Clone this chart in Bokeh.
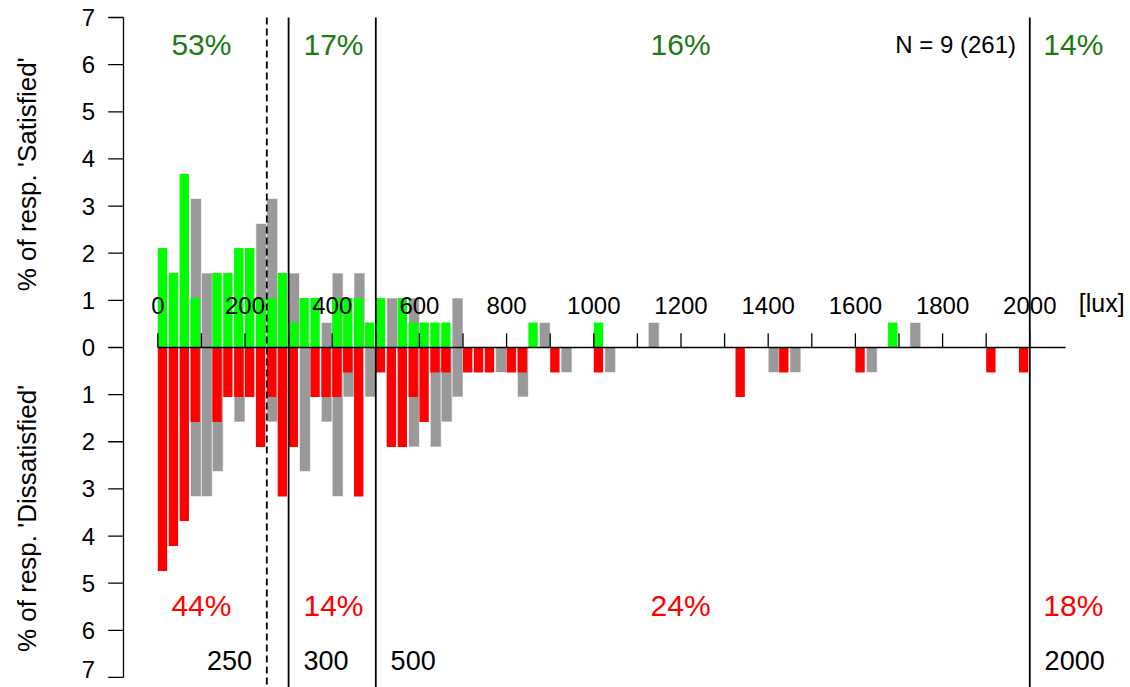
from math import pi
from bokeh.plotting import figure
from bokeh.models import Range1d
from bokeh.core.properties import value
from bokeh.embed import file_html
from bokeh.resources import INLINE

# ---------------- data (lux bin start, % of responses) ----------------
BIN = 25  # lux per bin

sat_lux = [0, 25, 50, 75, 125, 150, 175, 200, 225, 250, 275, 300, 325, 350,
           400, 425, 450, 475, 500, 550, 575, 600, 625, 650, 850, 1000, 1675]
sat_pct = [2.11, 1.58, 3.68, 1.05, 1.58, 1.58, 2.11, 2.11, 1.05, 1.05, 1.58, 0.53, 1.05, 1.05,
           1.05, 1.05, 1.05, 0.53, 1.05, 1.05, 0.53, 0.53, 0.53, 0.53, 0.53, 0.53, 0.53]

sat_all_lux = [75, 100, 225, 250, 300, 375, 400, 450, 525, 575, 675, 875, 1125, 1725]
sat_all_pct = [3.16, 1.58, 2.63, 3.16, 1.58, 0.53, 1.58, 1.58, 1.05, 1.05, 1.05, 0.53, 0.53, 0.53]

dis_lux = [0, 25, 50, 75, 125, 150, 175, 200, 225, 250, 275, 300, 350, 375, 400, 425, 450,
           500, 525, 550, 575, 600, 625, 650, 700, 725, 750, 800, 825, 900, 1000, 1325,
           1425, 1600, 1900, 1975]
dis_pct = [4.74, 4.21, 3.68, 1.58, 1.58, 1.05, 1.05, 1.05, 2.11, 1.05, 3.16, 2.11, 1.05, 1.05,
           1.05, 0.53, 3.16, 0.53, 2.11, 2.11, 1.05, 1.58, 0.53, 0.53, 0.53, 0.53, 0.53, 0.53,
           0.53, 0.53, 0.53, 1.05, 0.53, 0.53, 0.53, 0.53]

dis_all_lux = [75, 100, 125, 175, 250, 325, 375, 400, 425, 475, 575, 625, 650, 675, 775,
               825, 925, 1025, 1400, 1450, 1625]
dis_all_pct = [3.16, 3.16, 2.63, 1.58, 1.58, 2.63, 1.58, 3.16, 1.05, 1.05, 2.11, 2.11, 1.58,
               1.05, 0.53, 1.05, 0.53, 0.53, 0.53, 0.53, 0.53]

thresholds = [250, 300, 500, 2000]
threshold_labels = ["250", "300", "500", "2000"]
sat_share = ["53%", "17%", "16%", "14%"]
dis_share = ["44%", "14%", "24%", "18%"]
share_x = [100, 403, 1199, 2100]

x_ticks = list(range(0, 2001, 100))
x_tick_labels = list(range(0, 2001, 200))
y_ticks = list(range(-7, 8))

FONT = value("Liberation Sans")
GREEN = "#00ff00"
RED = "#ff0000"
GREY = "#999999"
TXT_GREEN = "#1b7a12"

# ---------------- figure ----------------
W, H = 1130, 687
p = figure(width=W, height=H, x_range=Range1d(-360.8, 2231.0), y_range=Range1d(-7.213, 7.361),
           output_backend="svg", toolbar_location=None, x_axis_type=None, y_axis_type=None,
           min_border=0)
p.outline_line_color = None
p.background_fill_color = "white"
p.border_fill_color = "white"

cw = 21.5  # coloured bar width in lux

# grey (all responses) bars behind
p.quad(left=sat_all_lux, right=[x + BIN for x in sat_all_lux], bottom=0, top=sat_all_pct,
       fill_color=GREY, line_color="white", line_width=0.6)
p.quad(left=dis_all_lux, right=[x + BIN for x in dis_all_lux], top=0,
       bottom=[-v for v in dis_all_pct], fill_color=GREY, line_color="white", line_width=0.6)
# coloured bars on top
p.quad(left=sat_lux, right=[x + cw for x in sat_lux], bottom=0, top=sat_pct,
       fill_color=GREEN, line_color=None)
p.quad(left=dis_lux, right=[x + cw for x in dis_lux], top=0,
       bottom=[-v for v in dis_pct], fill_color=RED, line_color=None)

# x axis at zero
p.segment(x0=[0], y0=[0], x1=[2082], y1=[0], line_color="black", line_width=1.3)
p.segment(x0=x_ticks, y0=0, x1=x_ticks, y1=0.3, line_color="black", line_width=1.3)
p.text(x=x_tick_labels, y=0.89, text=[str(v) for v in x_tick_labels], text_font=FONT,
       text_font_size="24px", text_align="center", text_baseline="middle", text_color="black")
p.text(x=[2165], y=[0.95], text=["[lux]"], text_font=FONT, text_font_size="25px",
       text_align="center", text_baseline="middle", text_color="black")

# y axis (left)
ax_x = -78.7
p.segment(x0=[ax_x], y0=[-7], x1=[ax_x], y1=[7], line_color="black", line_width=1.3)
p.segment(x0=-113.8, y0=y_ticks, x1=ax_x, y1=y_ticks, line_color="black", line_width=1.3)
p.text(x=-159, y=[v + (0.16 if v == -7 else 0) for v in y_ticks],
       text=[str(abs(v)) for v in y_ticks], text_font=FONT,
       text_font_size="24px", text_align="center", text_baseline="middle", text_color="black")
p.text(x=[-300, -300], y=[3.75, -3.55],
       text=["% of resp.  'Satisfied'", "% of resp.  'Dissatisfied'"],
       angle=pi / 2, text_font=FONT, text_font_size="26px", text_align="center",
       text_baseline="middle", text_color="black")

# threshold lines
p.segment(x0=[thresholds[0]], y0=[7], x1=[thresholds[0]], y1=[-7.2], line_color="black",
          line_width=1.8, line_dash="7 4")
p.segment(x0=thresholds[1:], y0=7, x1=thresholds[1:], y1=-7.2, line_color="black",
          line_width=1.8)

# zone shares
p.text(x=share_x, y=6.43, text=sat_share, text_font=FONT, text_font_size="30px",
       text_align="center", text_baseline="middle", text_color=TXT_GREEN)
p.text(x=share_x, y=-5.47, text=dis_share, text_font=FONT, text_font_size="30px",
       text_align="center", text_baseline="middle", text_color=RED)
p.text(x=[1830], y=[6.43], text=["N = 9 (261)"], text_font=FONT, text_font_size="24px",
       text_align="center", text_baseline="middle", text_color="black")

# threshold labels at bottom
p.text(x=[thresholds[0] - 34], y=[-6.64], text=[threshold_labels[0]], text_font=FONT,
       text_font_size="27px", text_align="right", text_baseline="middle", text_color="black")
p.text(x=[t + 34 for t in thresholds[1:]], y=-6.64, text=threshold_labels[1:], text_font=FONT,
       text_font_size="27px", text_align="left", text_baseline="middle", text_color="black")

open("out.html", "w").write(file_html(p, INLINE))
